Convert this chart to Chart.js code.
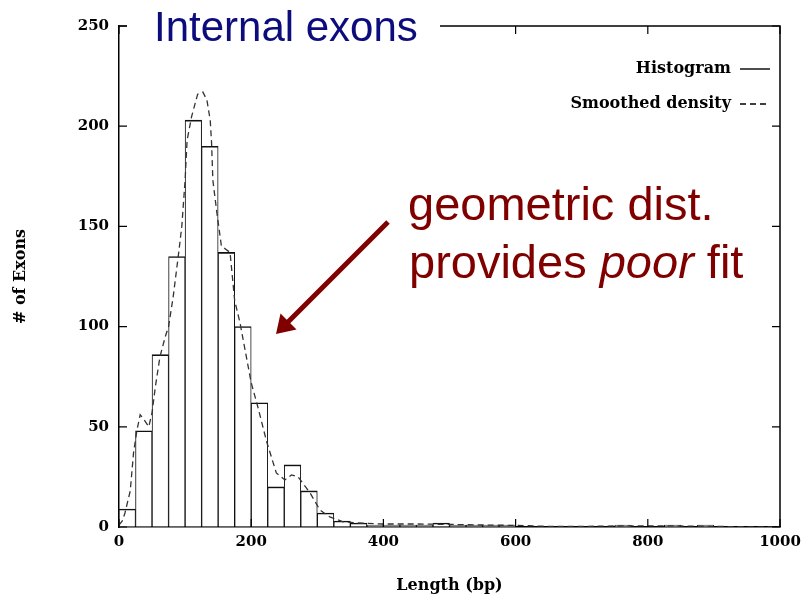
<!DOCTYPE html>
<html><head><meta charset="utf-8">
<script src="https://cdn.jsdelivr.net/npm/chart.js@4.4.1/dist/chart.umd.min.js"></script>
<style>html,body{margin:0;padding:0;background:#fff;overflow:hidden}</style>
</head><body>
<canvas id="c" width="809" height="599"></canvas>
<script>
// ---- data ----
const binStarts = [0,25,50,75,100,125,150,175,200,225,250,275,300,325,350,375,400,425,450,475,
                   500,525,550,575,600,625,650,675,700,725,750,775,800,825,850,875,900,925,950,975];
const BIN_WIDTH = 25;
const exonCounts = [9,48,86,135,203,190,137,100,62,20,31,18,7,3,2,1,1,1,1,2,
                    1,1,1,1,0,0,0,0,0,0,1,0,0,1,0,1,0,0,0,0];
const densityLengths = [0,5,9,17,22,27,32,37,45,50,55,62,70,75,82,90,95,100,103,110,119,127,133,138,140,142,148,155,160,168,175,183,200,210,223,238,251,261,271,289,304,319,339,360,400,450,500,550,600,650,700,750,800,850,900,950,1000];
const densityValues  = [1,3,7,18,37,48,56,54,50,57,70,85,95,100,115,136,150,173,193,205,216,217,213,203,192,173,157,140,139,137,113,102,72,60,43,27,23.5,26,25,17,8.5,5,2.6,2,1.5,1.5,1.3,1,0.8,0.3,0.3,0.5,0.6,0.5,0.3,0.1,0];
const xTicks = [0,200,400,600,800,1000];
const yTicks = [0,50,100,150,200,250];
const titleText = 'Internal exons';
const xTitle = 'Length (bp)';
const yTitle = '# of Exons';
const legendLabels = ['Histogram','Smoothed density'];
const noteLine1 = 'geometric dist.';
const noteLine2 = ['provides ', 'poor', ' fit'];

const SERIF = "'DejaVu Serif', 'Liberation Serif', serif";
const SANS = "'Liberation Sans', Arial, sans-serif";

const overlay = {
  id: 'overlay',
  afterDraw(chart) {
    const ctx = chart.ctx, a = chart.chartArea;
    const xs = chart.scales.x, ys = chart.scales.y;
    ctx.save();
    ctx.strokeStyle = '#000';
    ctx.lineWidth = 1.5;
    // top and right border
    ctx.beginPath();
    ctx.moveTo(a.left, a.top); ctx.lineTo(a.right, a.top); ctx.lineTo(a.right, a.bottom);
    ctx.stroke();
    // inward ticks
    ctx.lineWidth = 1.2;
    ctx.beginPath();
    yTicks.forEach(v => {
      const p = ys.getPixelForValue(v);
      ctx.moveTo(a.left, p); ctx.lineTo(a.left + 8, p);
      ctx.moveTo(a.right, p); ctx.lineTo(a.right - 8, p);
    });
    xTicks.forEach(v => {
      const p = xs.getPixelForValue(v);
      ctx.moveTo(p, a.bottom); ctx.lineTo(p, a.bottom - 8);
      ctx.moveTo(p, a.top); ctx.lineTo(p, a.top + 8);
    });
    ctx.stroke();
    // title box over top border
    ctx.fillStyle = '#fff';
    ctx.fillRect(a.left + 8, a.top - 8, 313, 16);
    ctx.fillStyle = '#0c0c7c';
    ctx.font = '42px ' + SANS;
    ctx.textBaseline = 'alphabetic';
    ctx.textAlign = 'left';
    ctx.fillText(titleText, 154, 41);
    // legend
    ctx.fillStyle = '#000';
    ctx.font = 'bold 16px ' + SERIF;
    ctx.textAlign = 'right';
    ctx.textBaseline = 'middle';
    ctx.fillText(legendLabels[0], 731, 69);
    ctx.fillText(legendLabels[1], 731, 104);
    ctx.lineWidth = 1.4;
    ctx.beginPath(); ctx.moveTo(740, 69); ctx.lineTo(770, 69); ctx.stroke();
    ctx.setLineDash([6,4]);
    ctx.beginPath(); ctx.moveTo(740, 104); ctx.lineTo(770, 104); ctx.stroke();
    ctx.setLineDash([]);
    // annotation
    const red = '#800000';
    ctx.fillStyle = red;
    ctx.textAlign = 'left';
    ctx.textBaseline = 'alphabetic';
    ctx.font = '47px ' + SANS;
    ctx.fillText(noteLine1, 408, 220);
    let x = 409;
    ctx.fillText(noteLine2[0], x, 278); x += ctx.measureText(noteLine2[0]).width;
    ctx.font = 'italic 47px ' + SANS;
    ctx.fillText(noteLine2[1], x, 278); x += ctx.measureText(noteLine2[1]).width;
    ctx.font = '47px ' + SANS;
    ctx.fillText(noteLine2[2], x, 278);
    // arrow
    ctx.strokeStyle = red;
    ctx.lineWidth = 5;
    ctx.lineCap = 'butt';
    ctx.beginPath(); ctx.moveTo(388, 222); ctx.lineTo(288, 322); ctx.stroke();
    ctx.beginPath();
    ctx.moveTo(276, 334);
    ctx.lineTo(280.5, 313.5);
    ctx.lineTo(296.5, 329.5);
    ctx.closePath(); ctx.fill();
    ctx.restore();
  }
};

new Chart(document.getElementById('c'), {
  type: 'bar',
  data: {
    datasets: [
      {
        type: 'line',
        label: legendLabels[1],
        data: densityLengths.map((l, i) => ({x: l, y: densityValues[i]})),
        borderColor: '#333',
        borderWidth: 1.3,
        borderDash: [6, 4],
        pointRadius: 0,
        fill: false,
        tension: 0,
        order: 0
      },
      {
        type: 'bar',
        label: legendLabels[0],
        data: binStarts.map((s, i) => ({x: s + BIN_WIDTH / 2, y: exonCounts[i]})),
        backgroundColor: '#fff',
        borderColor: '#111',
        borderWidth: {top: 1.6, left: 1, right: 1, bottom: 0},
        borderSkipped: 'start',
        barPercentage: 1,
        categoryPercentage: 1,
        order: 1
      }
    ]
  },
  options: {
    responsive: false,
    devicePixelRatio: 1,
    animation: false,
    layout: {padding: {top: 26, right: 29, bottom: 0, left: 0}},
    plugins: {legend: {display: false}, tooltip: {enabled: false}},
    scales: {
      x: {
        type: 'linear', min: 0, max: 1000, offset: false,
        afterBuildTicks: s => { s.ticks = xTicks.map(v => ({value: v})); },
        afterFit: s => { s.height = 72; },
        grid: {display: true, drawOnChartArea: false, drawTicks: false, offset: false},
        border: {display: true, color: '#000', width: 1.5},
        ticks: {color: '#000', padding: 6, font: {family: SERIF, weight: 'bold', size: 15}, maxRotation: 0,
                callback: v => String(v)},
        title: {display: true, text: xTitle, color: '#000', font: {family: SERIF, weight: 'bold', size: 16}, padding: {top: 0, bottom: 4}}
      },
      y: {
        type: 'linear', min: 0, max: 250,
        afterBuildTicks: s => { s.ticks = yTicks.map(v => ({value: v})); },
        afterFit: s => { s.width = 119; },
        grid: {display: true, drawOnChartArea: false, drawTicks: false},
        border: {display: true, color: '#000', width: 1.5},
        ticks: {color: '#000', padding: 10, font: {family: SERIF, weight: 'bold', size: 15}, callback: v => String(v)},
        title: {display: true, text: yTitle, color: '#000', font: {family: SERIF, weight: 'bold', size: 16}, padding: {top: 11, bottom: 0}}
      }
    }
  },
  plugins: [overlay]
});
</script>
</body></html>
